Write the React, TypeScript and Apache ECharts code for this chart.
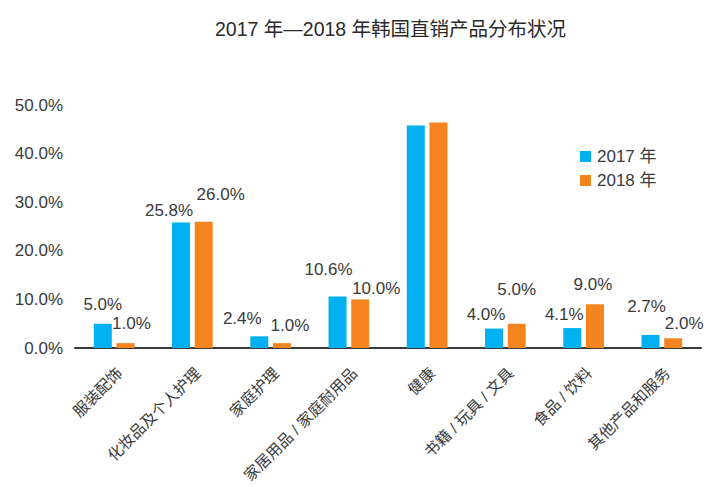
import React, { useEffect, useRef } from "react";
import * as echarts from "echarts";

const title = "2017 年—2018 年韩国直销产品分布状况";
const categories = [
  "服装配饰",
  "化妆品及个人护理",
  "家庭护理",
  "家居用品 / 家庭耐用品",
  "健康",
  "书籍 / 玩具 / 文具",
  "食品 / 饮料",
  "其他产品和服务",
];
const seriesNames = ["2017 年", "2018 年"];
const values2017 = [5.0, 25.8, 2.4, 10.6, 45.8, 4.0, 4.1, 2.7];
const values2018 = [1.0, 26.0, 1.0, 10.0, 46.4, 5.0, 9.0, 2.0];
const showLabel = [true, true, true, true, false, true, true, true];
const yTicks = { min: 0, max: 50, interval: 10 };

// label nudges (style only)
const offsets2017: [number, number][] = [
  [0, -11], [-12, -4], [-17, -9], [-9, -18], [0, 0], [-8, -6], [-8, -5], [-4, -20],
];
const offsets2018: [number, number][] = [
  [6, -11], [17, -19], [8, -9], [16, -2], [0, 0], [0, -26], [-2, -11], [11, -6],
];

const FONT = "'Liberation Sans', Arial, 'Noto Sans CJK SC', sans-serif";
const TEXT = "#3a3a3a";

function buildData(vals: number[], offs: [number, number][]) {
  return vals.map((v, i) => ({
    value: v,
    label: {
      show: showLabel[i],
      offset: offs[i],
    },
  }));
}

export default function App() {
  const ref = useRef<HTMLDivElement>(null);
  useEffect(() => {
    document.body.style.margin = "0";
    document.body.style.overflow = "hidden";
    if (!ref.current) return;
    const chart = echarts.init(ref.current, null, { renderer: "svg" });
    const labelCommon = {
      position: "top" as const,
      distance: 0,
      fontSize: 17,
      color: TEXT,
      fontFamily: FONT,
      formatter: (p: any) => p.value.toFixed(1) + "%",
    };
    chart.setOption({
      animation: false,
      backgroundColor: "#ffffff",
      textStyle: { fontFamily: FONT },
      title: {
        text: title,
        left: 210,
        top: 14,
        textStyle: { fontSize: 19.5, fontWeight: "normal", color: "#2a2a2a", fontFamily: FONT },
      },
      legend: {
        orient: "vertical",
        left: 575,
        top: 143,
        icon: "rect",
        itemWidth: 11,
        itemHeight: 11,
        itemGap: 7,
        textStyle: { fontSize: 17, color: TEXT, fontFamily: FONT, padding: [0, 0, 0, 1] },
        data: seriesNames,
      },
      grid: {
        left: 75,
        right: 24,
        top: 105,
        bottom: 139,
        containLabel: false,
        outerBoundsMode: "none",
      },
      xAxis: {
        type: "category",
        data: categories,
        axisLine: { show: true, lineStyle: { color: "#3a3a3a", width: 2 } },
        axisTick: { show: false },
        axisLabel: {
          rotate: 45,
          interval: 0,
          margin: 17,
          verticalAlign: "top",
          fontSize: 15.5,
          color: TEXT,
          fontFamily: FONT,
        },
      },
      yAxis: {
        type: "value",
        min: yTicks.min,
        max: yTicks.max,
        interval: yTicks.interval,
        axisLine: { show: false },
        axisTick: { show: false },
        splitLine: { show: false },
        axisLabel: {
          margin: 12,
          fontSize: 17,
          color: TEXT,
          fontFamily: FONT,
          formatter: (v: number) => v.toFixed(1) + "%",
        },
      },
      series: [
        {
          name: seriesNames[0],
          type: "bar",
          barWidth: 18,
          barGap: "26%",
          itemStyle: { color: "#00B0F0" },
          label: { ...labelCommon },
          data: buildData(values2017, offsets2017),
        },
        {
          name: seriesNames[1],
          type: "bar",
          barWidth: 18,
          barGap: "26%",
          itemStyle: { color: "#F5841F" },
          label: { ...labelCommon },
          data: buildData(values2018, offsets2018),
        },
      ],
    });
    return () => chart.dispose();
  }, []);
  return (
    <div
      ref={ref}
      style={{ position: "fixed", left: 0, top: 0, width: 725, height: 487 }}
    />
  );
}
